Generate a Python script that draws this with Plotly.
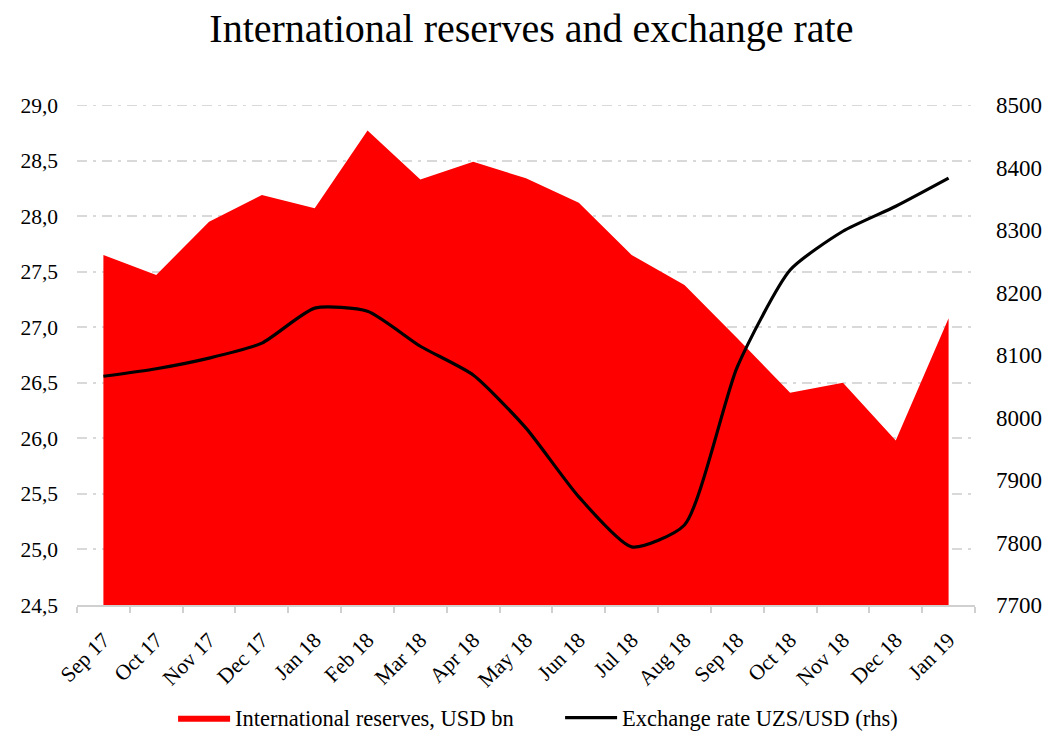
import plotly.graph_objects as go

months = ["Sep 17", "Oct 17", "Nov 17", "Dec 17", "Jan 18", "Feb 18", "Mar 18", "Apr 18",
          "May 18", "Jun 18", "Jul 18", "Aug 18", "Sep 18", "Oct 18", "Nov 18", "Dec 18", "Jan 19"]
reserves = [27.65, 27.47, 27.95, 28.19, 28.07, 28.77, 28.33, 28.49,
            28.34, 28.12, 27.65, 27.38, 26.90, 26.41, 26.50, 25.98, 27.08]
fx_rate = [8066, 8078, 8095, 8119, 8175, 8170, 8114, 8068,
           7983, 7873, 7793, 7828, 8081, 8236, 8298, 8338, 8383]

left_ticks = [24.5 + 0.5 * i for i in range(10)]
right_ticks = [7700 + 100 * i for i in range(9)]

FONT = "Liberation Serif, DejaVu Serif, serif"
GRID_DASH = "10px,6px,3px,6px"
GRID_COLOR = "#d9d9d9"

fig = go.Figure()
fig.add_trace(go.Scatter(
    x=months, y=reserves, name="International reserves, USD bn",
    mode="lines", line=dict(width=0, color="#ff0000"),
    fill="tozeroy", fillcolor="#ff0000",
))
fig.add_trace(go.Scatter(
    x=months, y=fx_rate, name="Exchange rate UZS/USD (rhs)", yaxis="y2",
    mode="lines", line=dict(color="#000000", width=3.2, shape="spline", smoothing=0.6),
))

# top gridline at 29,0 (plotly drops the grid line sitting on the plot edge)
fig.add_shape(type="line", xref="paper", yref="y", x0=0, x1=1, y0=29.0, y1=29.0,
              layer="below", line=dict(color=GRID_COLOR, width=2, dash=GRID_DASH))

fig.update_layout(
    width=1046, height=733,
    paper_bgcolor="white", plot_bgcolor="white",
    margin=dict(l=77, r=71, t=105, b=128, autoexpand=False),
    font=dict(family=FONT, size=21, color="#000000"),
    title=dict(text="International reserves and exchange rate", x=0.508, xanchor="center",
               y=0.962, yanchor="middle", font=dict(family=FONT, size=40, color="#000000")),
    showlegend=True,
    legend=dict(orientation="h", x=0.107, xanchor="left", y=-0.226, yanchor="middle",
                font=dict(family=FONT, size=22.5), itemwidth=52, entrywidth=320,
                tracegroupgap=0),
    xaxis=dict(
        type="category", tickangle=-45, showgrid=False, automargin=False,
        showline=True, linecolor="#d0d0d0", linewidth=2,
        ticks="outside", tickson="boundaries", tickcolor="#d0d0d0", ticklen=6, tickwidth=2,
        tickfont=dict(family=FONT, size=21.5), range=[-0.5, 16.5], ticklabelstandoff=12,
    ),
    yaxis=dict(
        range=[24.5, 29.0], tickvals=left_ticks, automargin=False,
        ticktext=[f"{v:.1f}".replace(".", ",") for v in left_ticks],
        showgrid=True, gridcolor=GRID_COLOR, gridwidth=2, griddash=GRID_DASH,
        zeroline=False, showline=False, ticks="", ticklabelstandoff=18,
        tickfont=dict(family=FONT, size=21.5),
    ),
    yaxis2=dict(
        range=[7700, 8500], tickvals=right_ticks, overlaying="y", side="right",
        automargin=False,
        showgrid=False, zeroline=False, showline=False, ticks="", ticklabelstandoff=20,
        tickfont=dict(family=FONT, size=23),
    ),
)

fig.write_html("out.html")
